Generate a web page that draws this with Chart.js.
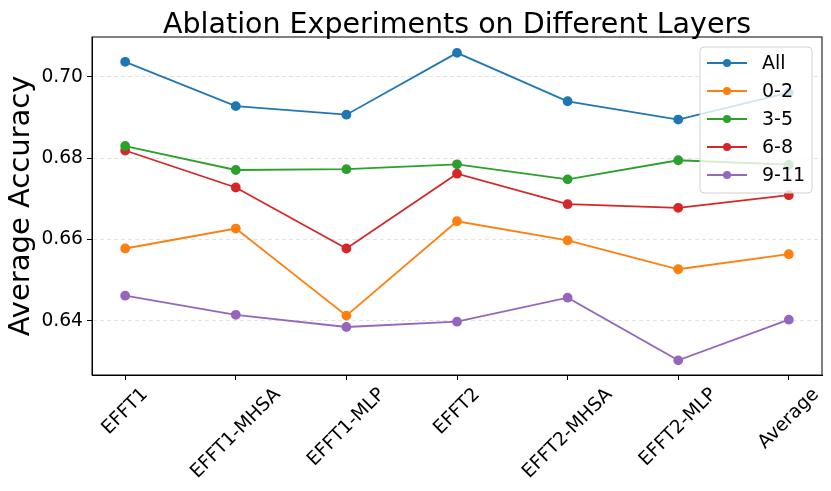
<!DOCTYPE html>
<html>
<head>
<meta charset="utf-8">
<script src="https://cdn.jsdelivr.net/npm/chart.js@4.4.1/dist/chart.umd.min.js"></script>
<style>
  html, body { margin: 0; padding: 0; background: #fff; }
  #wrap { width: 831px; height: 491px; }
</style>
</head>
<body>
<div id="wrap"><canvas id="ablChart"></canvas></div>
<script>
const categories = ['EFFT1', 'EFFT1-MHSA', 'EFFT1-MLP', 'EFFT2', 'EFFT2-MHSA', 'EFFT2-MLP', 'Average'];
const seriesNames = ['All', '0-2', '3-5', '6-8', '9-11'];
const accAll   = [0.7037, 0.6928, 0.6907, 0.7059, 0.6940, 0.6895, 0.6961];
const acc0to2  = [0.6578, 0.6627, 0.6413, 0.6645, 0.6598, 0.6527, 0.6564];
const acc3to5  = [0.6830, 0.6771, 0.6773, 0.6785, 0.6748, 0.6795, 0.6784];
const acc6to8  = [0.6819, 0.6728, 0.6578, 0.6762, 0.6687, 0.6678, 0.6709];
const acc9to11 = [0.6462, 0.6415, 0.6385, 0.6398, 0.6457, 0.6303, 0.6403];
const yTicks = [0.64, 0.66, 0.68, 0.70];
const colors = ['#1f77b4', '#ff7f0e', '#2ca02c', '#d62728', '#9467bd'];

const FONT = 'DejaVu Sans';
const TICK_SIZE = 18.7;
const seriesData = [accAll, acc0to2, acc3to5, acc6to8, acc9to11];

// frame around the plot + title centred over the plot area
const framePlugin = {
    id: 'frame',
    afterDraw(chart) {
        const { ctx, chartArea: a } = chart;
        ctx.save();
        ctx.strokeStyle = '#000';
        ctx.lineWidth = 1;
        ctx.strokeRect(a.left, a.top, a.right - a.left, a.bottom - a.top);
        ctx.fillStyle = '#000';
        ctx.font = '28.5px "' + FONT + '"';
        ctx.textAlign = 'center';
        ctx.textBaseline = 'alphabetic';
        ctx.fillText('Ablation Experiments on Different Layers', (a.left + a.right) / 2, 33);
        ctx.restore();
    }
};

// x labels rotated 45 deg around their centre (like matplotlib ha='center')
const xLabelPlugin = {
    id: 'xLabels',
    afterDraw(chart) {
        const { ctx, chartArea: a } = chart;
        const xs = chart.scales.x;
        const h = TICK_SIZE * 1.16;
        ctx.save();
        ctx.fillStyle = '#000';
        ctx.font = TICK_SIZE + 'px "' + FONT + '"';
        ctx.textAlign = 'center';
        ctx.textBaseline = 'middle';
        categories.forEach((c, i) => {
            const w = ctx.measureText(c).width;
            const cx = xs.getPixelForValue(i);
            const cy = a.bottom + 9 + (w + h) * 0.3536;
            ctx.save();
            ctx.translate(cx, cy);
            ctx.rotate(-Math.PI / 4);
            ctx.fillText(c, 0, 0);
            ctx.restore();
        });
        ctx.restore();
    }
};

// matplotlib-like legend inside the upper right corner
const legendPlugin = {
    id: 'innerLegend',
    afterDraw(chart) {
        const { ctx, chartArea: a } = chart;
        const x0 = a.right - 122, y0 = a.top + 10, w = 112, h = 146;
        ctx.save();
        ctx.beginPath();
        ctx.roundRect(x0, y0, w, h, 4);
        ctx.fillStyle = 'rgba(255,255,255,0.8)';
        ctx.fill();
        ctx.strokeStyle = '#d0d0d0';
        ctx.lineWidth = 1;
        ctx.stroke();
        ctx.font = '19px "' + FONT + '"';
        ctx.textBaseline = 'middle';
        ctx.textAlign = 'left';
        chart.data.datasets.forEach((ds, i) => {
            const yy = y0 + 16 + i * 28;
            ctx.strokeStyle = ds.borderColor;
            ctx.lineWidth = 2;
            ctx.beginPath();
            ctx.moveTo(x0 + 7, yy);
            ctx.lineTo(x0 + 47, yy);
            ctx.stroke();
            ctx.fillStyle = ds.borderColor;
            ctx.beginPath();
            ctx.arc(x0 + 27, yy, 4, 0, Math.PI * 2);
            ctx.fill();
            ctx.fillStyle = '#000';
            ctx.fillText(ds.label, x0 + 62, yy + 1);
        });
        ctx.restore();
    }
};

new Chart(document.getElementById('ablChart'), {
    type: 'line',
    data: {
        datasets: seriesNames.map((name, i) => ({
            label: name,
            data: seriesData[i].map((v, k) => ({ x: k, y: v })),
            borderColor: colors[i],
            backgroundColor: colors[i],
            borderWidth: 1.8,
            pointRadius: 4,
            pointHoverRadius: 4,
            fill: false,
            tension: 0
        }))
    },
    options: {
        responsive: true,
        maintainAspectRatio: false,
        animation: false,
        layout: { padding: { top: 37, right: 9, left: 0, bottom: 0 } },
        plugins: {
            legend: { display: false },
            title: { display: false },
            tooltip: { enabled: false }
        },
        scales: {
            x: {
                type: 'linear',
                min: -0.3,
                max: 6.3,
                afterBuildTicks: s => { s.ticks = categories.map((c, i) => ({ value: i })); },
                afterFit: s => { s.height = 116; },
                ticks: { display: false },
                grid: {
                    drawOnChartArea: false,
                    tickColor: '#000',
                    tickLength: 5
                },
                border: { color: '#000', width: 1 }
            },
            y: {
                min: 0.6267,
                max: 0.7098,
                afterBuildTicks: s => { s.ticks = yTicks.map(v => ({ value: v })); },
                afterFit: s => { s.width = 92; },
                title: {
                    display: true,
                    text: 'Average Accuracy',
                    color: '#000',
                    font: { family: FONT, size: 29 },
                    padding: { top: 4, bottom: 0 }
                },
                ticks: {
                    color: '#000',
                    padding: 4,
                    font: { family: FONT, size: TICK_SIZE },
                    callback: v => v.toFixed(2)
                },
                grid: {
                    color: '#e3e3e3',
                    tickColor: '#000',
                    tickLength: 5,
                    tickBorderDash: []
                },
                border: { color: '#000', width: 1, dash: [4, 3] }
            }
        }
    },
    plugins: [framePlugin, xLabelPlugin, legendPlugin]
});
</script>
</body>
</html>
